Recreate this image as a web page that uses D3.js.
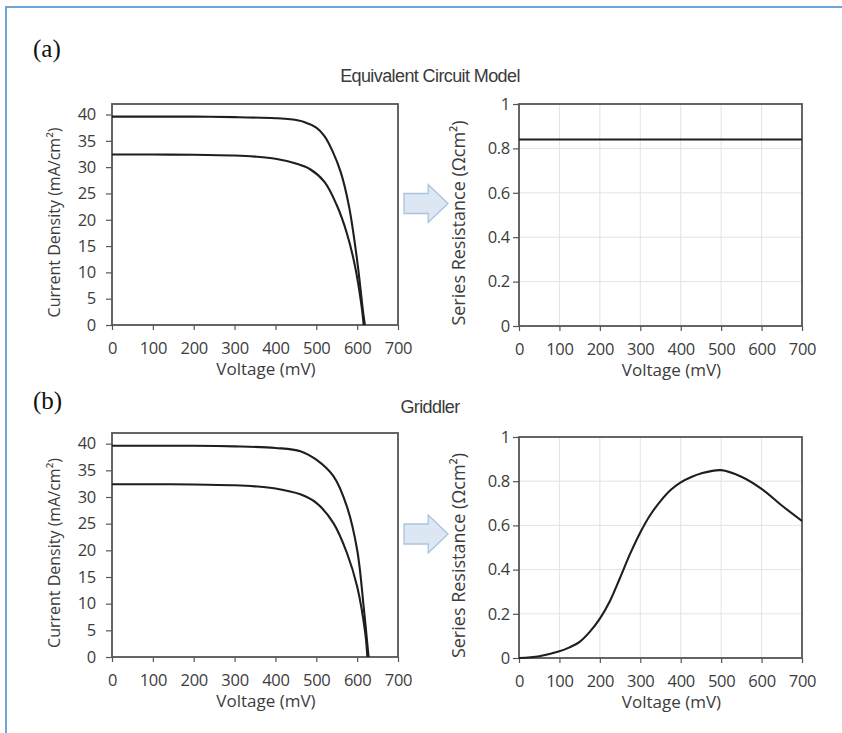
<!DOCTYPE html>
<html>
<head>
<meta charset="utf-8">
<script src="https://cdn.jsdelivr.net/npm/d3@7"></script>
<style>
  body { margin: 0; background: #fff; }
  svg { display: block; }
</style>
</head>
<body>
<svg id="fig" width="842" height="733"></svg>
<script>
// J-V curves (mV, mA/cm2)
const ecmUpperV = [0, 100, 200, 300, 400, 436, 470, 500, 520, 540, 560, 580, 600, 615, 619];
const ecmUpperJ = [39.6, 39.6, 39.6, 39.5, 39.3, 39.1, 38.6, 37.5, 35.9, 33.0, 29.0, 22.6, 12.3, 2.2, 0];
const ecmLowerV = [0, 100, 200, 300, 350, 400, 450, 485, 520, 550, 575, 595, 611, 616];
const ecmLowerJ = [32.4, 32.4, 32.35, 32.2, 32.0, 31.6, 30.7, 29.6, 27.2, 22.8, 17.4, 11.1, 3.5, 0];

const gridUpperV = [0, 100, 200, 300, 400, 461, 500, 542, 575, 600, 616, 628];
const gridUpperJ = [39.6, 39.6, 39.6, 39.5, 39.2, 38.6, 37.0, 33.9, 28.2, 20.1, 9.4, 0];
const gridLowerV = [0, 100, 200, 300, 350, 400, 461, 500, 542, 575, 600, 620, 625];
const gridLowerJ = [32.4, 32.4, 32.35, 32.2, 32.0, 31.6, 30.5, 28.9, 25.1, 19.5, 13.2, 4.4, 0];

// series resistance (ohm cm2)
const ecmRsV = [0, 700];
const ecmRs = [0.84, 0.84];
const gridRsV = [0, 50, 100, 125, 150, 175, 200, 225, 250, 275, 300, 325, 350, 375, 400, 425, 450, 500, 550, 600, 650, 700];
const gridRs = [0, 0.008, 0.03, 0.048, 0.073, 0.118, 0.178, 0.258, 0.363, 0.472, 0.568, 0.648, 0.71, 0.76, 0.795, 0.818, 0.835, 0.85, 0.82, 0.765, 0.69, 0.62];

const voltTicks = [0, 100, 200, 300, 400, 500, 600, 700];
const jTicks = [0, 5, 10, 15, 20, 25, 30, 35, 40];
const rsTicks = [0, 0.2, 0.4, 0.6, 0.8, 1];

const svg = d3.select("#fig");
const sans = "'Open Sans', sans-serif";
const textCol = "#3c3c3c";
const frameCol = "#555";

// blue page border (top + left)
svg.append("path")
  .attr("d", "M6,733 V7 H842")
  .attr("fill", "none")
  .attr("stroke", "#6ea6d8")
  .attr("stroke-width", 2);

function zip(xs, ys) { return xs.map((x, i) => ({ v: x, y: ys[i] })); }

function drawPanel(p) {
  const x = d3.scaleLinear().domain([0, 700]).range([p.left, p.right]);
  const y = d3.scaleLinear().domain(p.yDomain).range([p.bottom, p.top]);
  const g = svg.append("g");

  if (p.grid) {
    g.selectAll("line.vg").data(voltTicks.slice(1, -1)).enter().append("line")
      .attr("x1", d => x(d)).attr("x2", d => x(d))
      .attr("y1", p.top).attr("y2", p.bottom)
      .attr("stroke", "#e3e3e3").attr("stroke-width", 1);
    g.selectAll("line.hg").data(p.yTicks.slice(1, -1)).enter().append("line")
      .attr("x1", p.left).attr("x2", p.right)
      .attr("y1", d => y(d)).attr("y2", d => y(d))
      .attr("stroke", "#e3e3e3").attr("stroke-width", 1);
  }

  // axes
  const xa = g.append("g")
    .attr("transform", `translate(0,${p.bottom})`)
    .call(d3.axisBottom(x).tickValues(voltTicks).tickSize(5).tickPadding(12).tickSizeOuter(0));
  const ya = g.append("g")
    .attr("transform", `translate(${p.left},0)`)
    .call(d3.axisLeft(y).tickValues(p.yTicks).tickSize(6).tickPadding(p.yPad).tickSizeOuter(0)
      .tickFormat(d3.format("")));
  [xa, ya].forEach(a => {
    a.select(".domain").remove();
    a.selectAll("line").attr("stroke", frameCol).attr("stroke-width", 1.2);
    a.selectAll("text").attr("fill", textCol).style("font-family", sans)
      .style("font-size", "16.5px").style("letter-spacing", "-0.3px");
  });

  // plot frame
  g.append("rect")
    .attr("x", p.left).attr("y", p.top)
    .attr("width", p.right - p.left).attr("height", p.bottom - p.top)
    .attr("fill", "none").attr("stroke", frameCol).attr("stroke-width", 1.8);

  const line = d3.line().x(d => x(d.v)).y(d => y(d.y)).curve(d3.curveCatmullRom.alpha(0.5));
  p.series.forEach(s => {
    g.append("path").datum(s)
      .attr("d", line)
      .attr("fill", "none")
      .attr("stroke", "#1e1e1e")
      .attr("stroke-width", 2.1);
  });

  // axis titles
  g.append("text")
    .attr("x", (p.left + p.right) / 2 + 11).attr("y", p.bottom + 45)
    .attr("text-anchor", "middle").attr("dominant-baseline", "middle")
    .attr("fill", textCol).style("font-family", sans).style("font-size", "17px")
    .text("Voltage (mV)");
  g.append("text")
    .attr("transform", `translate(${p.ylabX},${(p.top + p.bottom) / 2 + 8}) rotate(-90)`)
    .attr("text-anchor", "middle").attr("dominant-baseline", "middle")
    .attr("fill", textCol).style("font-family", sans).style("font-size", p.ylabSize)
    .text(p.ylab);
}

const rows = [
  { top: 104, topR: 104, bottom: 325, bottomR: 326, label: "(a)", labY: 51, title: "Equivalent Circuit Model", titleY: 77,
    jv: [zip(ecmUpperV, ecmUpperJ), zip(ecmLowerV, ecmLowerJ)], rs: [zip(ecmRsV, ecmRs)] },
  { top: 433, topR: 437, bottom: 657, bottomR: 658, label: "(b)", labY: 403, title: "Griddler", titleY: 408,
    jv: [zip(gridUpperV, gridUpperJ), zip(gridLowerV, gridLowerJ)], rs: [zip(gridRsV, gridRs)] }
];

rows.forEach(r => {
  drawPanel({ left: 112, right: 398, top: r.top, bottom: r.bottom, yDomain: [0, 42], yTicks: jTicks,
    yPad: 10, ylabX: 56, ylabSize: "16px", ylab: "Current Density (mA/cm²)", series: r.jv, grid: false });
  drawPanel({ left: 519, right: 802, top: r.topR, bottom: r.bottomR, yDomain: [0, 1], yTicks: rsTicks,
    yPad: 3, ylabX: 460, ylabSize: "18px", ylab: "Series Resistance (Ωcm²)", series: r.rs, grid: true });

  svg.append("text")
    .attr("x", 33).attr("y", r.labY)
    .attr("dominant-baseline", "middle")
    .attr("fill", "#111").style("font-family", "'Liberation Serif', serif").style("font-size", "25px")
    .text(r.label);
  svg.append("text")
    .attr("x", 430).attr("y", r.titleY)
    .attr("text-anchor", "middle").attr("dominant-baseline", "middle")
    .attr("fill", "#3a3a3a").style("font-family", "'Liberation Sans', Arial, sans-serif")
    .style("font-size", "18px").style("letter-spacing", "-0.6px")
    .text(r.title);

  // block arrow between panels
  const cy = (r.top + r.bottom) / 2 - 11;
  const ax = d3.scaleLinear().domain([0, 1]).range([404, 448]);
  const pts = [[0, -10], [0.55, -10], [0.55, -19], [1, 0], [0.55, 19], [0.55, 10], [0, 10]];
  svg.append("polygon")
    .attr("points", pts.map(q => [ax(q[0]), cy + q[1]].join(",")).join(" "))
    .attr("fill", "#dce7f3").attr("stroke", "#a9c3e0").attr("stroke-width", 1.3);
});
</script>
</body>
</html>
